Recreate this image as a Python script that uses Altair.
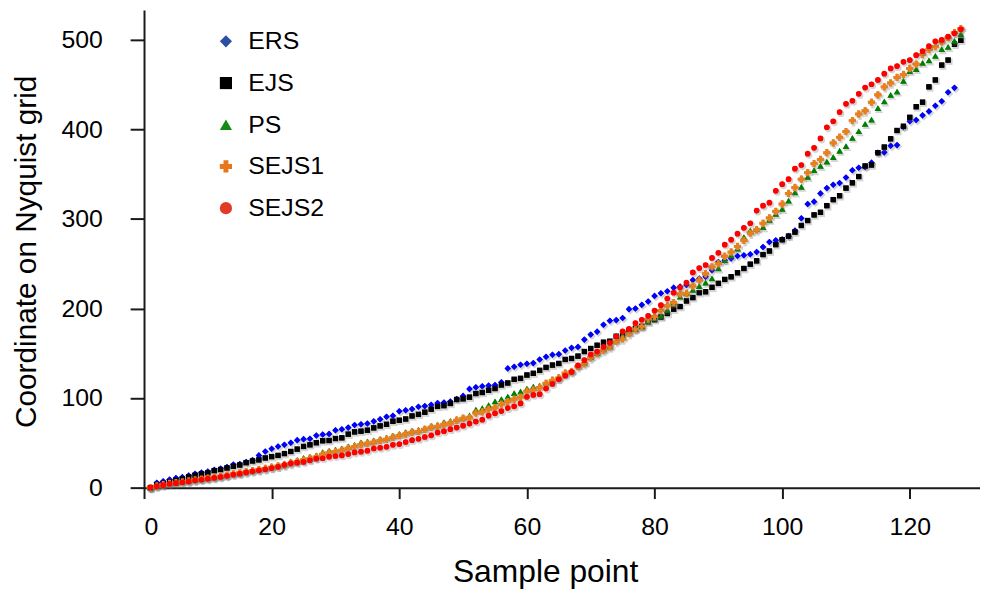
import altair as alt
import pandas as pd

series_names = ["ERS", "EJS", "PS", "SEJS1", "SEJS2"]

ers = [0, 5.5, 7, 9, 10.8, 11.7, 13.5, 15.4, 16.8, 18, 19.8, 21.2, 23, 25.7, 26.4, 28.6, 30.7, 36, 40.4, 43.4,
       46, 47.8, 50.1, 53, 54.1, 54.5, 58.2, 59.3, 60, 64.1, 65.2, 67, 70, 70.7, 71.5, 74, 76.3, 79.2, 80.3, 85.2,
       86.3, 87.7, 90.3, 91, 92.5, 94.4, 95.1, 96.2, 98.8, 102.4, 110.2, 112, 113.2, 113.9, 114.6, 117.6, 133.1, 135, 137.2, 138.3,
       139, 143.1, 146, 148.3, 149, 153, 156, 157.1, 165.2, 170.8, 174.1, 181.8, 186.3, 187, 189.3, 199.2, 199.9, 204, 207.7, 214,
       216.9, 219.1, 223.2, 224.3, 226.1, 231.7, 233.5, 235.4, 242.7, 251.9, 253.8, 255.7, 258.6, 259.4, 260.5, 263, 268.6, 274.1, 276, 277.1,
       280.7, 287, 300.7, 316.6, 319.2, 328.4, 334.3, 338, 340, 346.1, 354.2, 357.1, 357.9, 362.7, 373.8, 374.2, 381.5, 382.3, 402.6, 408.9,
       410.3, 415.5, 419.9, 426.2, 431.3, 441.3, 446.2]

ejs = [0, 3.5, 4.6, 6.5, 8, 9.7, 12, 13.8, 15.4, 16.5, 19, 20.2, 22, 23.8, 25.3, 27.9, 29.8, 31, 33.1, 34.6,
       36, 38, 40.4, 43, 46, 47.8, 50.1, 52.3, 52.6, 54.8, 55.6, 59.7, 62.2, 63, 64.1, 66.7, 68.9, 70.7, 74.1, 75.2,
       76.6, 80, 81.8, 84.2, 87.5, 90.7, 91.5, 94, 98.4, 99.1, 101, 105, 106.2, 108.7, 110.6, 114.6, 116.8, 120.9, 122, 125.7,
       127.6, 130.9, 134.2, 136.8, 138.6, 143.1, 144.2, 146.8, 151.9, 155.3, 158.9, 162.3, 163.4, 168.9, 171.5, 175.5, 177.8, 180, 185.2, 187.4,
       190.4, 194.4, 199.2, 202.1, 208.4, 212.1, 217.6, 218.6, 223.6, 228, 232.4, 235.3, 239.8, 244.6, 249.4, 253.1, 260.1, 264.1, 271.2, 276.7,
       280.7, 285.2, 292.6, 298.1, 304.4, 307.3, 314.7, 321.4, 325.8, 334.3, 340.2, 347.2, 359, 360.1, 373.8, 380.1, 389.3, 398.6, 403.3, 413.3,
       425.1, 430.2, 447.3, 455, 471.6, 477.2, 494.9, 499.3]

ps = [0, 2, 3.5, 5, 5.7, 6.8, 7.6, 9, 9.7, 10.8, 11.6, 13, 14.1, 16, 16.7, 18.6, 19.7, 21, 22.5, 24,
      25.5, 27, 29.3, 30.9, 33.1, 34.6, 36, 39.7, 41.2, 42.3, 43.7, 46, 47.8, 50.4, 51.5, 52.6, 54.5, 55.9, 58.1, 60,
      61.9, 63.7, 64.5, 66.5, 69, 70, 73, 74.4, 76.6, 78.5, 80.7, 87, 88.8, 92.1, 96.2, 98.8, 101.7, 105.4, 107.3, 110.6,
      112.8, 113.9, 117.3, 120.9, 123.9, 128.6, 130.8, 136.4, 139.4, 146, 150.5, 154.2, 157.8, 164.5, 169.7, 173.3, 177.1, 180, 185.5, 189.3,
      191.8, 198.4, 206.5, 213.2, 217.6, 220.6, 225, 228.7, 233.5, 244.6, 253.8, 259.4, 266.8, 279.6, 287, 289, 290.7, 298.9, 305.5, 311,
      320.3, 329.5, 335.8, 346.8, 354.3, 359, 363.8, 369, 376, 381.2, 390.4, 397.8, 405.9, 410.7, 423.6, 431, 438.4, 442.1, 453.9, 465,
      467.2, 474.2, 476.8, 482, 489.4, 491.9, 498.5, 506.3]

sejs1 = [0, 1.8, 3.2, 4.6, 5.5, 6.5, 7.4, 8.6, 9.5, 10.5, 11.5, 12.6, 13.8, 15.3, 16.3, 17.8, 19, 20.2, 21.4, 22.7,
         24, 25.3, 27.2, 29, 31, 32.6, 34.2, 37.3, 39, 40.3, 41.8, 44, 45.8, 48.2, 49.5, 50.8, 52.6, 54, 56.2, 58,
         59.9, 61.8, 62.8, 65.1, 67.4, 68.5, 70.7, 72.2, 75.2, 77.4, 78.1, 83.3, 84.7, 87.7, 89.1, 93.2, 95.8, 98.8, 101, 107.6,
         109.1, 111.7, 116.5, 119.8, 122.4, 127.8, 129.5, 135, 138.6, 145, 149.7, 153.4, 157.1, 163.4, 166, 171.9, 177.1, 180, 188.1, 191,
         197.7, 202.9, 206.5, 216.2, 216.9, 225, 231.7, 238.7, 246.4, 250.1, 258.2, 263, 269.3, 276, 284.1, 287.8, 295.1, 301.1, 308.4, 316.6,
         328.4, 335, 344.3, 351.6, 361.6, 366.4, 373.8, 384.8, 391.1, 397.4, 409.6, 417, 420.7, 430.2, 438.4, 447.3, 451.7, 457.9, 461.2, 467.9,
         472.7, 483.4, 488.9, 492.3, 497.5, 502.2, 507.8, 512.2]

sejs2 = [0, 1.5, 2.8, 4.2, 5, 6, 6.9, 8.2, 9, 10, 11, 12, 13.2, 14.6, 15.6, 17, 18.2, 19.4, 20.5, 21.8,
         23.2, 25.5, 27.1, 27.9, 28.7, 30.5, 32.3, 32.8, 34.6, 35.3, 36, 37.5, 39.3, 40.1, 41.2, 43.7, 44.5, 45.6, 47.8, 48.6,
         50.8, 53, 54.5, 56.5, 58.4, 61.5, 63, 65.2, 67, 69.2, 71.5, 73.7, 75.9, 80.3, 82.9, 85.5, 88.8, 90.7, 94, 101.3,
         103.5, 104.3, 110.6, 115.7, 120.9, 125, 129.2, 136.4, 142.3, 148.6, 151.9, 157.1, 161.6, 168.9, 174.4, 177.1, 183.7, 187.4, 191.8, 197.7,
         203.7, 211, 217.6, 223.6, 228.7, 240.2, 245, 248.5, 256.4, 262, 271.2, 276.7, 283.4, 290, 295.1, 309.2, 314.7, 318, 331.3, 338.7,
         344.3, 356, 360.1, 372.7, 379.3, 389.7, 402.2, 408.9, 419.2, 428.4, 431.8, 439.5, 446.5, 450.2, 455, 462, 467.9, 470.5, 475.3, 477.2,
         482.7, 487.1, 492.7, 498.2, 499.7, 503.3, 507.1, 511.5]

x_ticks = [0, 20, 40, 60, 80, 100, 120]
y_ticks = [0, 100, 200, 300, 400, 500]

point_colors = {"ERS": "#0000ff", "EJS": "#000000", "PS": "#008000", "SEJS1": "#e8801e", "SEJS2": "#ff0000"}
legend_colors = ["#2c4fa3", "#000000", "#158a15", "#e8761c", "#e33a27"]
shapes = ["diamond", "square", "triangle-up", "cross", "circle"]
sizes = {"ERS": 44, "EJS": 30, "PS": 45, "SEJS1": 55, "SEJS2": 33}

rows = []
for name, vals in zip(series_names, [ers, ejs, ps, sejs1, sejs2]):
    for i, v in enumerate(vals):
        rows.append({"series": name, "sample": i + 1, "value": v})
df = pd.DataFrame(rows)

FONT = "Liberation Sans"

x_enc = alt.X("sample:Q",
              scale=alt.Scale(domain=[0, 131], nice=False, zero=False),
              axis=alt.Axis(values=x_ticks, title="Sample point", tickSize=11, labelPadding=16,
                            titleX=404, titleY=95, titleBaseline="alphabetic", titleAlign="center",
                            titleFontSize=32))
y_enc = alt.Y("value:Q",
              scale=alt.Scale(domain=[0, 533], nice=False),
              axis=alt.Axis(values=y_ticks, title="Coordinate on Nyquist grid", tickSize=14, labelPadding=28,
                            titleX=-109, titleY=243, titleBaseline="alphabetic", titleAlign="center",
                            titleFontSize=30))
color_enc = alt.Color("series:N", scale=alt.Scale(domain=series_names, range=legend_colors), title=None)
shape_enc = alt.Shape("series:N", scale=alt.Scale(domain=series_names, range=shapes), title=None)

base = alt.Chart(df)

# bottom layer: carries the legend colours, fully hidden under the real markers
layers = []
for s in series_names:
    sub = base.transform_filter(alt.datum.series == s)
    layers.append(
        sub.mark_point(filled=True, size=sizes[s] * 0.8, opacity=1, strokeWidth=0)
        .encode(x=x_enc, y=y_enc, color=color_enc, shape=shape_enc)
    )
for s in series_names:
    sub = base.transform_filter(alt.datum.series == s)
    layers.append(
        sub.mark_point(filled=True, size=sizes[s] * 1.4, opacity=0.28, color="#666666",
                       xOffset=1.3, yOffset=1.6, strokeWidth=0)
        .encode(x=x_enc, y=y_enc, shape=shape_enc)
    )
    layers.append(
        sub.mark_point(filled=True, size=sizes[s], opacity=1, strokeWidth=0, color=point_colors[s])
        .encode(x=x_enc, y=y_enc, shape=shape_enc)
    )

chart = alt.layer(*layers).properties(
    width=842, height=481,
    autosize=alt.AutoSizeParams(type="none"),
    padding={"left": 137, "top": 0, "right": 0, "bottom": 100},
).configure_view(stroke=None).configure_axis(
    grid=False, labelFont=FONT, labelFontSize=25, labelColor="#000000",
    titleFont=FONT, titleFontWeight="normal", titleColor="#000000",
    domainColor="#1a1a1a", domainWidth=2, tickColor="#1a1a1a", tickWidth=2,
).configure_legend(
    orient="none", legendX=70, legendY=19, padding=0,
    labelFont=FONT, labelFontSize=25, labelColor="#000000",
    symbolSize=150, symbolStrokeWidth=0, symbolOpacity=1,
    rowPadding=16, labelOffset=10,
)

chart.save("out.html", embed_options={"renderer": "svg", "actions": False})
